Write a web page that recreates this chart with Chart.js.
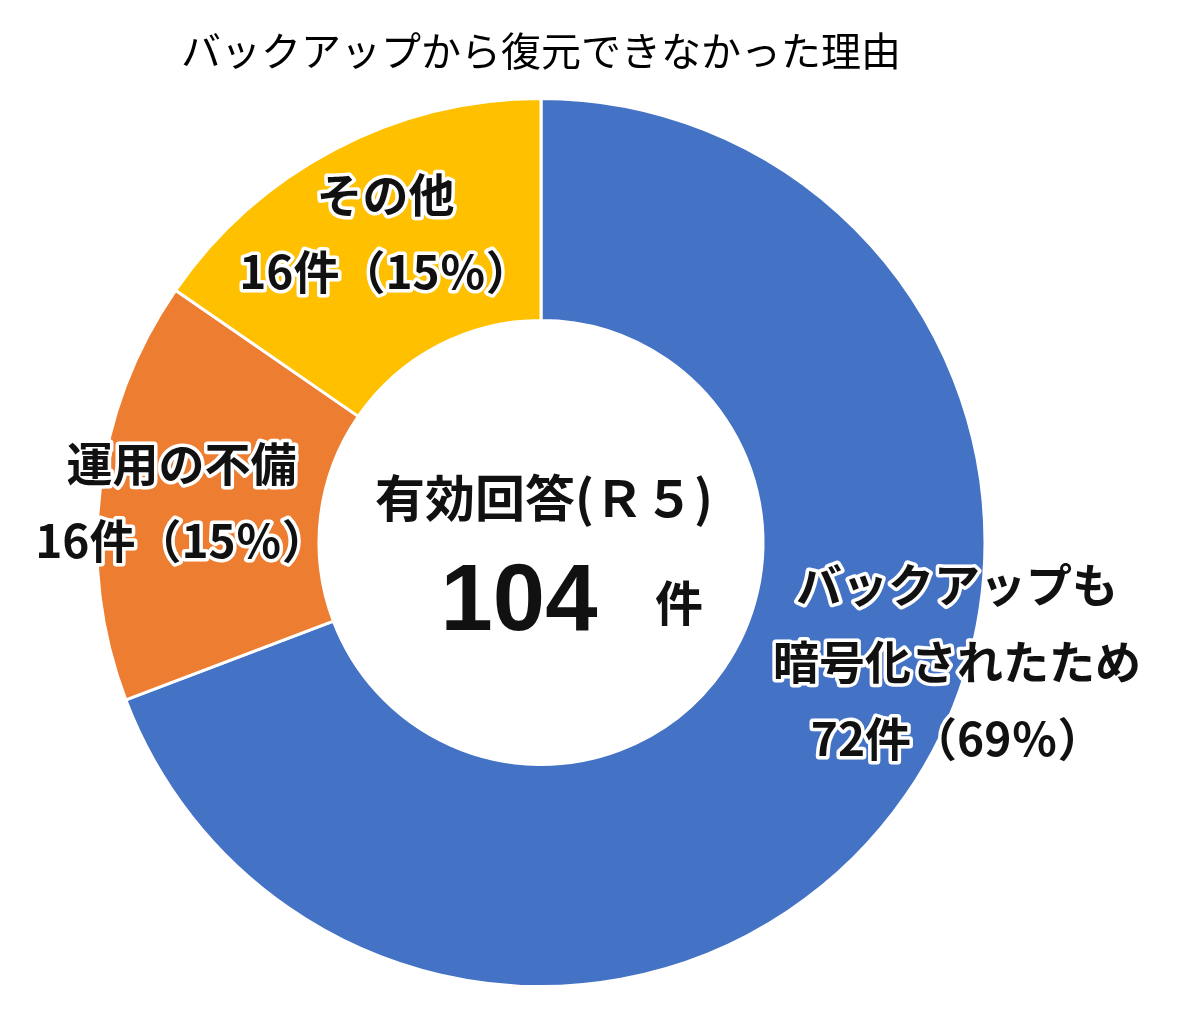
<!DOCTYPE html>
<html lang="ja">
<head>
    <meta charset="UTF-8">
    <title>バックアップから復元できなかった理由</title>
    <script src="https://cdn.jsdelivr.net/npm/chart.js"></script>
    <style>
        body { margin: 0; background: #fff; }
        #chartBox { width: 1202px; height: 1013px; position: relative; }
    </style>
</head>
<body>
    <div id="chartBox"><canvas id="reasonChart"></canvas></div>

    <script>
        // data
        const categories = ['バックアップも暗号化されたため', '運用の不備', 'その他'];
        const labelLines = [['バックアップも', '暗号化されたため'], ['運用の不備'], ['その他']];
        const counts = [72, 16, 16];
        const percents = [69, 15, 15];
        const totalCount = 104;
        const colors = ['#4472C4', '#ED7D31', '#FFC000'];

        const FONT = '"Noto Sans CJK JP", "Noto Sans", sans-serif';

        // where each slice label sits: angle shift from slice middle (deg), radius as fraction of outer
        const labelPlace = [
            { shift: -18.6, r: 0.975 },
            { shift: -0.5, r: 0.815 },
            { shift: 1, r: 0.78 }
        ];

        function haloText(ctx, text, x, y) {
            ctx.lineJoin = 'round';
            ctx.strokeStyle = '#fff';
            ctx.lineWidth = 7;
            ctx.strokeText(text, x, y);
            ctx.fillStyle = '#111';
            ctx.fillText(text, x, y);
        }

        const labelPlugin = {
            id: 'sliceLabels',
            afterDatasetsDraw(chart) {
                const ctx = chart.ctx;
                const arcs = chart.getDatasetMeta(0).data;
                ctx.save();
                ctx.textAlign = 'center';
                ctx.textBaseline = 'middle';
                ctx.font = 'bold 46px ' + FONT;
                arcs.forEach((arc, i) => {
                    const p = arc.getProps(['x', 'y', 'startAngle', 'endAngle', 'outerRadius']);
                    const mid = (p.startAngle + p.endAngle) / 2 + labelPlace[i].shift * Math.PI / 180;
                    const rad = p.outerRadius * labelPlace[i].r;
                    const cx = p.x + Math.cos(mid) * rad;
                    const cy = p.y + Math.sin(mid) * rad;
                    const lines = labelLines[i].concat([`${counts[i]}件（${percents[i]}％）`]);
                    const step = 77;
                    const top = cy - (lines.length - 1) * step / 2;
                    lines.forEach((ln, k) => haloText(ctx, ln, cx, top + k * step));
                });

                // centre text
                const c = arcs[0];
                ctx.fillStyle = '#111';
                ctx.font = 'bold 50px ' + FONT;
                ctx.fillText('有効回答(Ｒ５)', c.x + 3, c.y - 45);
                ctx.font = 'bold 94px "Liberation Sans", Arial, sans-serif';
                ctx.fillText(String(totalCount), c.x - 22, c.y + 62);
                ctx.font = 'bold 48px ' + FONT;
                ctx.fillText('件', c.x + 138, c.y + 60);
                ctx.restore();
            }
        };

        new Chart(document.getElementById('reasonChart'), {
            type: 'doughnut',
            data: {
                labels: categories,
                datasets: [{
                    data: counts,
                    backgroundColor: colors,
                    borderColor: '#fff',
                    borderWidth: 3,
                    hoverOffset: 0
                }]
            },
            options: {
                responsive: true,
                maintainAspectRatio: false,
                animation: false,
                cutout: '50%',
                layout: { padding: { left: 0, right: 120, top: 0, bottom: 25 } },
                events: [],
                plugins: {
                    legend: { display: false },
                    tooltip: { enabled: false },
                    title: {
                        display: true,
                        text: 'バックアップから復元できなかった理由',
                        color: '#000',
                        font: { family: FONT, size: 40, weight: 'normal', lineHeight: 1.2 },
                        padding: { top: 27, bottom: 22 }
                    }
                }
            },
            plugins: [labelPlugin]
        });
    </script>
</body>
</html>
